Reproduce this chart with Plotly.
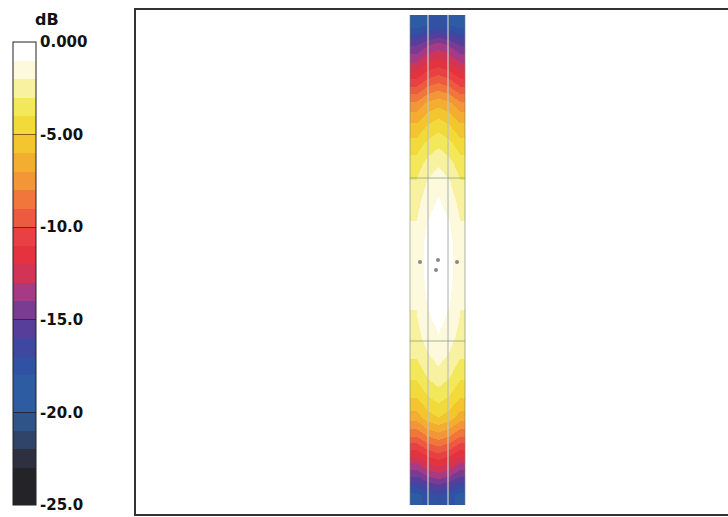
import plotly.graph_objects as go

# ---- data -------------------------------------------------------------
# column centres (m) across the seating strip, row centres (m) bottom->top
col_x = [13.975, 14.525, 15.075, 15.625, 16.175]
row_y = [0.94, 1.92, 2.90, 3.88, 4.86, 5.84, 6.82, 7.80, 8.78, 9.76,
         10.74, 11.72, 12.70, 13.68, 14.66, 15.64, 16.62, 17.60, 18.58,
         19.56, 20.54, 21.52, 22.50, 23.48, 24.46]
# level in dB, one row per row_y (bottom -> top), one value per col_x
spl_db = [
    [-18.5, -17.5, -17.0, -17.5, -18.5],
    [-15.0, -14.0, -13.5, -14.0, -15.0],
    [-12.0, -11.0, -10.5, -11.0, -12.0],
    [-9.0, -8.0, -7.5, -8.0, -9.0],
    [-6.5, -5.5, -5.0, -5.5, -6.5],
    [-5.0, -4.1, -3.6, -4.1, -5.0],
    [-3.9, -3.0, -2.5, -3.0, -3.9],
    [-3.0, -2.2, -1.7, -2.2, -3.0],
    [-2.4, -1.6, -1.1, -1.6, -2.4],
    [-2.1, -1.2, -0.7, -1.2, -2.1],
    [-1.9, -0.9, -0.4, -0.9, -1.9],
    [-1.8, -0.7, -0.2, -0.7, -1.8],
    [-1.7, -0.6, -0.1, -0.6, -1.7],
    [-1.8, -0.7, -0.3, -0.7, -1.8],
    [-2.0, -1.0, -0.6, -1.0, -2.0],
    [-2.4, -1.4, -0.9, -1.4, -2.4],
    [-2.9, -1.9, -1.3, -1.9, -2.9],
    [-3.6, -2.7, -2.2, -2.7, -3.6],
    [-4.7, -3.8, -3.3, -3.8, -4.7],
    [-6.0, -5.1, -4.6, -5.1, -6.0],
    [-7.8, -6.8, -6.3, -6.8, -7.8],
    [-10.3, -9.3, -8.8, -9.3, -10.3],
    [-12.8, -11.8, -11.3, -11.8, -12.8],
    [-15.2, -14.2, -13.6, -14.2, -15.2],
    [-18.5, -18.0, -17.5, -18.0, -18.5],
]

# seating section boundaries inside the strip
section_x = [14.6, 15.6]
section_y = [8.65, 16.8]
strip_x = [13.7, 16.45]
strip_y = [0.45, 24.95]

# listener positions
listener_x = [14.2, 15.1, 16.05, 15.0]
listener_y = [12.6, 12.7, 12.6, 12.2]

# colour legend
legend_title = "dB"
tick_vals = [0, -5, -10, -15, -20, -25]
tick_text = ["0.000", "-5.00", "-10.0", "-15.0", "-20.0", "-25.0"]
band_edges = [-25, -23, -22, -21, -20, -18, -17, -16, -15, -14, -13, -12,
              -11, -10, -9, -8, -7, -6, -5, -4, -3, -2, -1, 0]
band_colors = ["#242428", "#2e3040", "#2f4468", "#2f5488", "#2d5ca2",
               "#3152a4", "#3e48a0", "#573e9a", "#7a3c92", "#a63a84",
               "#d23456", "#e4323e", "#e94044", "#ec5a40", "#f0763c",
               "#f29638", "#f3ae32", "#f3c52e", "#f1da3a", "#f3e85a",
               "#f7f1a0", "#fcf9dc", "#ffffff"]

ZMIN, ZMAX = band_edges[0], band_edges[-1]
colorscale = []
for i, c in enumerate(band_colors):
    a = (band_edges[i] - ZMIN) / (ZMAX - ZMIN)
    b = (band_edges[i + 1] - ZMIN) / (ZMAX - ZMIN)
    colorscale.append([a, c])
    colorscale.append([b, c])

LABEL_FONT = "DejaVu Sans"

fig = go.Figure()
fig.add_trace(go.Heatmap(
    x=col_x, y=row_y, z=spl_db,
    zmin=ZMIN, zmax=ZMAX, zsmooth="best",
    colorscale=colorscale,
    hoverinfo="skip",
    colorbar=dict(
        x=-0.2078, xanchor="left", xref="paper",
        y=0.0179, yanchor="bottom",
        lenmode="pixels", len=463,
        thickness=23, thicknessmode="pixels",
        outlinewidth=1, outlinecolor="#222222",
        tickvals=tick_vals, ticktext=tick_text,
        ticks="inside", ticklen=23, tickwidth=1,
        tickcolor="rgba(40,0,0,0.55)",
        tickfont=dict(family=LABEL_FONT, size=15, color="#111111",
                      weight="bold"),
        xpad=0, ypad=0,
    ),
))

# section lines
for sx in section_x:
    fig.add_trace(go.Scatter(x=[sx, sx], y=strip_y, mode="lines",
                             line=dict(color="rgba(190,195,190,0.9)", width=1.5),
                             hoverinfo="skip", showlegend=False))
for sy in section_y:
    fig.add_trace(go.Scatter(x=strip_x, y=[sy, sy], mode="lines",
                             line=dict(color="rgba(130,150,120,0.7)", width=1),
                             hoverinfo="skip", showlegend=False))
for sx in strip_x:
    fig.add_trace(go.Scatter(x=[sx, sx], y=strip_y, mode="lines",
                             line=dict(color="rgba(120,130,120,0.6)", width=1),
                             hoverinfo="skip", showlegend=False))

fig.add_trace(go.Scatter(x=listener_x, y=listener_y, mode="markers",
                         marker=dict(size=4, color="#888888"),
                         hoverinfo="skip", showlegend=False))

fig.add_annotation(text=legend_title, xref="paper", yref="paper",
                   x=-0.1503, y=0.982, xanchor="center", yanchor="middle",
                   showarrow=False,
                   font=dict(family=LABEL_FONT, size=16, color="#111111",
                             weight="bold"))

fig.update_layout(
    width=728, height=517,
    margin=dict(l=136, r=0, t=10, b=3),
    paper_bgcolor="white", plot_bgcolor="white",
    showlegend=False,
    xaxis=dict(range=[0, 29.6], showline=True, mirror=True,
               linecolor="#333333", linewidth=2, showgrid=False,
               zeroline=False, showticklabels=False, ticks=""),
    yaxis=dict(range=[0, 25.2], showline=True, mirror=False,
               linecolor="#333333", linewidth=2, showgrid=False,
               zeroline=False, showticklabels=False, ticks=""),
)

fig.write_html(
    "out.html",
    config={"displayModeBar": False},
    post_script="document.body.style.margin='0';"
                "document.body.style.overflow='hidden';",
)
